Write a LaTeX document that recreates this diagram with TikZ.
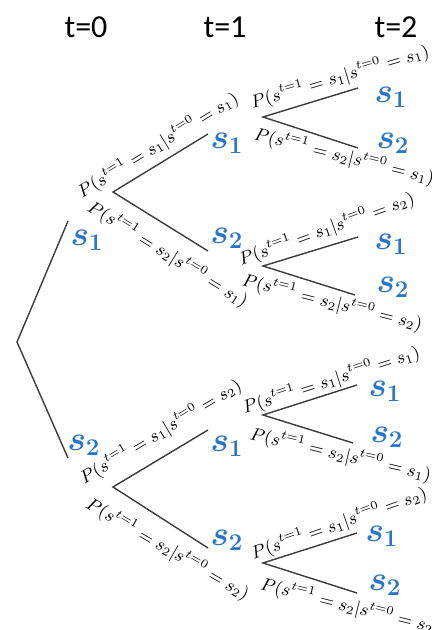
\documentclass[tikz,border=0pt]{standalone}
\usepackage{amsmath}
\usepackage{fontspec}
\setsansfont{Carlito}
\usepackage{xcolor}
\usepackage{tikz}
\definecolor{stateBlue}{RGB}{40,118,200}
\definecolor{branchGray}{RGB}{60,60,60}
\newcommand{\probtext}[2]{$P(s^{t=1} = s_{#1}|s^{t=0} = s_{#2})$}

\begin{document}
\begin{tikzpicture}[x=0.5pt,y=-0.5pt,
  branch/.style={branchGray,line width=0.7pt},
  prob/.style={anchor=base,inner sep=0pt,font=\fontsize{8.8}{11}\selectfont},
  state/.style={stateBlue,font=\fontsize{17}{20}\selectfont\boldmath},
  stage/.style={font=\sffamily\fontsize{16}{19}\selectfont}]
\useasboundingbox (0,0) rectangle (432,630);
\node[stage] (t0) at (86,27) {t=0};
\node[stage] (t1) at (225,27) {t=1};
\node[stage] (t2) at (396,27) {t=2};
\coordinate (root) at (17,342);
\coordinate (a1) at (68,221);
\coordinate (a2) at (68,458);
\coordinate (b1) at (113,192);
\coordinate (b2) at (113,487);
\coordinate (c11) at (208,134);
\coordinate (c12) at (208,251);
\coordinate (c21) at (208,430);
\coordinate (c22) at (208,548);
\coordinate (d1) at (263,117);
\coordinate (d2) at (263,266);
\coordinate (d3) at (263,415);
\coordinate (d4) at (263,563);
\coordinate (e11) at (358,88);
\coordinate (e12) at (358,148);
\coordinate (e21) at (358,237);
\coordinate (e22) at (355,295);
\coordinate (e31) at (357,385);
\coordinate (e32) at (353,443);
\coordinate (e41) at (357,533);
\coordinate (e42) at (357,593);
\draw[branch] (a1) -- (root) -- (a2);
\draw[branch] (c11) -- (b1) -- (c12);
\draw[branch] (c21) -- (b2) -- (c22);
\draw[branch] (e11) -- (d1) -- (e12);
\draw[branch] (e21) -- (d2) -- (e22);
\draw[branch] (e31) -- (d3) -- (e32);
\draw[branch] (e41) -- (d4) -- (e42);
\node[prob,rotate=31.6] (pB1a) at (161,150) {\probtext{1}{1}};
\node[prob,rotate=-31.8] (pB1b) at (165,259) {\probtext{2}{1}};
\node[prob,rotate=31.1] (pB2a) at (163.5,437) {\probtext{1}{2}};
\node[prob,rotate=-30] (pB2b) at (165,554) {\probtext{2}{2}};
\node[prob,rotate=16.5] (pD1a) at (341.5,82.5) {\probtext{1}{1}};
\node[prob,rotate=-14] (pD1b) at (343,162) {\probtext{2}{1}};
\node[prob,rotate=19.7] (pD2a) at (328.5,234.5) {\probtext{1}{2}};
\node[prob,rotate=-14] (pD2b) at (331,308) {\probtext{2}{2}};
\node[prob,rotate=17.7] (pD3a) at (333,385.5) {\probtext{1}{1}};
\node[prob,rotate=-13] (pD3b) at (339.5,460) {\probtext{2}{1}};
\node[prob,rotate=19.3] (pD4a) at (341,529) {\probtext{1}{2}};
\node[prob,rotate=-14] (pD4b) at (349.5,612) {\probtext{2}{2}};
\node[state] (sA1) at (87,240) {$s_1$};
\node[state] (sA2) at (84,445) {$s_2$};
\node[state] (sB11) at (227,143) {$s_1$};
\node[state] (sB12) at (227,238) {$s_2$};
\node[state] (sB21) at (227,446) {$s_1$};
\node[state] (sB22) at (227,540) {$s_2$};
\node[state] (sC11) at (391,97) {$s_1$};
\node[state] (sC12) at (393,143) {$s_2$};
\node[state] (sC21) at (391,244) {$s_1$};
\node[state] (sC22) at (393,287) {$s_2$};
\node[state] (sC31) at (385,391) {$s_1$};
\node[state] (sC32) at (387,437) {$s_2$};
\node[state] (sC41) at (382,536) {$s_1$};
\node[state] (sC42) at (385,585) {$s_2$};
\end{tikzpicture}
\end{document}
